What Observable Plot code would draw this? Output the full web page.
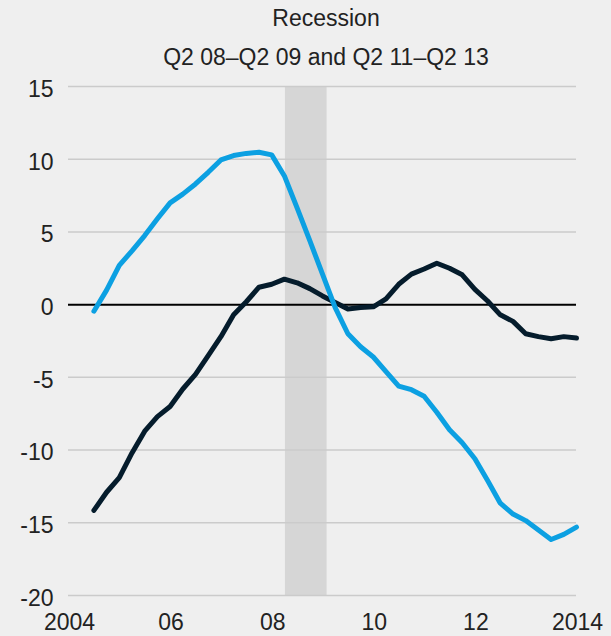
<!DOCTYPE html>
<html>
<head>
<meta charset="utf-8">
<script src="https://cdn.jsdelivr.net/npm/d3@7"></script>
<script src="https://cdn.jsdelivr.net/npm/@observablehq/plot@0.6"></script>
<style>
  html, body { margin: 0; padding: 0; background: #efefef; }
  body { width: 611px; height: 636px; overflow: hidden; font-family: "Liberation Sans", Arial, sans-serif; color: #222; }
  #titles { position: relative; height: 75px; }
  #titles div { position: absolute; left: 68px; width: 516px; text-align: center; font-size: 23px; line-height: 30px; white-space: nowrap; }
  #t1 { top: 3px; }
  #t2 { top: 42px; }
</style>
</head>
<body>
<div id="titles">
  <div id="t1">Recession</div>
  <div id="t2">Q2 08–Q2 09 and Q2 11–Q2 13</div>
</div>
<div id="chart"></div>
<script>
// Quarters (Q3 2004 .. Q1 2014)
const quarters = [
  "2004Q3","2004Q4",
  "2005Q1","2005Q2","2005Q3","2005Q4",
  "2006Q1","2006Q2","2006Q3","2006Q4",
  "2007Q1","2007Q2","2007Q3","2007Q4",
  "2008Q1","2008Q2","2008Q3","2008Q4",
  "2009Q1","2009Q2","2009Q3","2009Q4",
  "2010Q1","2010Q2","2010Q3","2010Q4",
  "2011Q1","2011Q2","2011Q3","2011Q4",
  "2012Q1","2012Q2","2012Q3","2012Q4",
  "2013Q1","2013Q2","2013Q3","2013Q4",
  "2014Q1"
];
// Light blue series
const blueValues = [
  -0.45, 1.0,
  2.7, 3.7, 4.75, 5.9,
  7.0, 7.6, 8.3, 9.1,
  9.95, 10.25, 10.4, 10.48,
  10.3, 8.85, 6.65, 4.4,
  2.1, -0.2, -2.0, -2.9,
  -3.6, -4.6, -5.6, -5.85,
  -6.3, -7.4, -8.6, -9.5,
  -10.6, -12.1, -13.65, -14.4,
  -14.85, -15.5, -16.15, -15.8,
  -15.3
];
// Dark navy series
const darkValues = [
  -14.15, -12.9,
  -11.9, -10.2, -8.7, -7.7,
  -7.0, -5.8, -4.8, -3.5,
  -2.2, -0.7, 0.2, 1.2,
  1.4, 1.75, 1.5, 1.1,
  0.6, 0.15, -0.3, -0.2,
  -0.15, 0.4, 1.4, 2.1,
  2.45, 2.85, 2.5, 2.05,
  1.05, 0.25, -0.7, -1.15,
  -2.0, -2.2, -2.35, -2.2,
  -2.3
];
// Recession band (fractional years)
const recessionStart = [2008.27];
const recessionEnd = [2009.09];
// Axis ticks
const yTicks = [-20, -15, -10, -5, 0, 5, 10, 15];
const xTicks = [2004, 2006, 2008, 2010, 2012, 2014];
const xTickLabels = ["2004", "06", "08", "10", "12", "2014"];

function qToYear(q) {
  const y = +q.slice(0, 4);
  const n = +q.slice(5);
  return y + (n - 1) / 4;
}
const blue = quarters.map((q, i) => ({x: qToYear(q), y: blueValues[i]}));
const dark = quarters.map((q, i) => ({x: qToYear(q), y: darkValues[i]}));
const band = recessionStart.map((s, i) => ({x1: s, x2: recessionEnd[i]}));
const labelMap = new Map(xTicks.map((t, i) => [t, xTickLabels[i]]));

const chart = Plot.plot({
  width: 611,
  height: 561,
  marginTop: 11,
  marginBottom: 41,
  marginLeft: 68,
  marginRight: 35,
  style: {background: "#efefef", fontFamily: "'Liberation Sans', Arial, sans-serif", fontSize: "23px", color: "#222", overflow: "visible"},
  x: {domain: [2004, 2014], label: null},
  y: {domain: [-20, 15], label: null},
  marks: [
    Plot.rect(band, {x1: "x1", x2: "x2", y1: -20, y2: 15, fill: "#d6d6d6"}),
    Plot.ruleY(yTicks.filter(d => d !== 0), {stroke: "#cbcbcb", strokeWidth: 1.5}),
    Plot.ruleY([0], {stroke: "#000", strokeWidth: 2}),
    Plot.axisY(yTicks, {label: null, tickSize: 0, tickPadding: 15, dy: 3, fontSize: 23, style: "letter-spacing:2px", tickFormat: d => String(d)}),
    Plot.axisX(xTicks, {label: null, tickSize: 0, tickPadding: 18, dx: 1, fontSize: 23, style: "letter-spacing:1.5px", tickFormat: d => labelMap.get(d)}),
    Plot.line(dark, {x: "x", y: "y", stroke: "#051c2c", strokeWidth: 5, strokeLinejoin: "round", strokeLinecap: "round"}),
    Plot.line(blue, {x: "x", y: "y", stroke: "#0ca0e2", strokeWidth: 5, strokeLinejoin: "round", strokeLinecap: "round"})
  ]
});
document.getElementById("chart").appendChild(chart);
</script>
</body>
</html>
